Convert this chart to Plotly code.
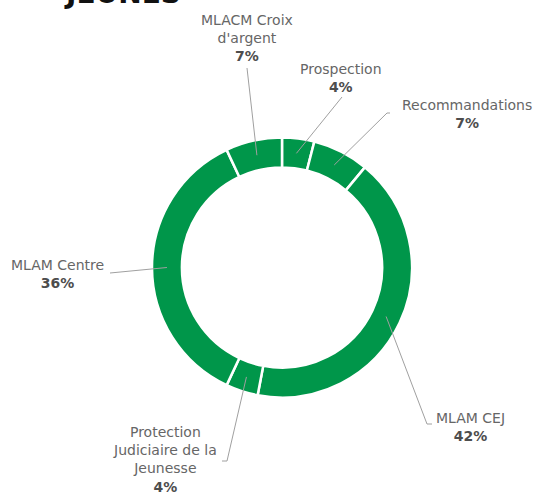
import math
import plotly.graph_objects as go

# Répartition des jeunes par origine (en %)
labels = ["Prospection", "Recommandations", "MLAM CEJ",
          "Protection<br>Judiciaire de la<br>Jeunesse", "MLAM Centre",
          "MLACM Croix<br>d'argent"]
values = [4, 7, 42, 4, 36, 7]
title_text = "JEUNES"

W, H = 536, 492
GREEN = "#00964a"
TEXT = "#666666"
BOLD = "#4d4d4d"
LINE = "#a0a0a0"

# Donut geometry in pixels
CX, CY, R_OUT = 282, 267.5, 130
HOLE = 0.77
R_MID = R_OUT * (1 + HOLE) / 2

def px(x):
    return x / W

def py(y):
    return 1 - y / H

# label placement: (text x, text y, anchor, leader elbow, leader end)
placement = [
    (341, 78, "center", (342, 97), None),
    (467, 114, "center", (387, 113), (390, 113)),
    (434, 427, "left", (427, 424), (432, 424)),
    (165, 459, "center", (227, 461), (222, 461)),
    (57, 274, "center", (110, 273), None),
    (247, 38, "center", (247, 68), None),
]

fig = go.Figure(go.Pie(
    labels=labels, values=values, sort=False, direction="clockwise",
    rotation=0, hole=HOLE, textinfo="none", hoverinfo="label+percent",
    marker=dict(colors=[GREEN] * len(values), line=dict(color="white", width=2.5)),
    domain=dict(x=[px(CX - R_OUT), px(CX + R_OUT)],
                y=[py(CY + R_OUT), py(CY - R_OUT)]),
    showlegend=False,
))

total = sum(values)
cum = 0
shapes, annotations = [], []
for lab, v, (tx, ty, anchor, elbow, end) in zip(labels, values, placement):
    mid = (cum + v / 2) / total * 2 * math.pi
    cum += v
    ix = CX + R_MID * math.sin(mid)
    iy = CY - R_MID * math.cos(mid)
    pts = [(ix, iy), elbow] + ([end] if end else [])
    path = "M " + " L ".join(f"{px(a)},{py(b)}" for a, b in pts)
    shapes.append(dict(type="path", xref="paper", yref="paper", path=path,
                       line=dict(color=LINE, width=1)))
    pct = round(v / total * 100)
    annotations.append(dict(
        x=px(tx), y=py(ty), xref="paper", yref="paper",
        xanchor=anchor, yanchor="middle", align="center", showarrow=False,
        text=f"{lab}<br><b><span style='color:{BOLD}'>{pct}%</span></b>",
        font=dict(family="DejaVu Sans", size=14, color=TEXT),
    ))

annotations.append(dict(
    x=px(122), y=py(-6), xref="paper", yref="paper", xanchor="center",
    yanchor="middle", showarrow=False, text=f"<b>{title_text}</b>",
    font=dict(family="DejaVu Sans", size=28, color="#111111"),
))

fig.update_layout(
    width=W, height=H, margin=dict(l=0, r=0, t=0, b=0),
    paper_bgcolor="white", plot_bgcolor="white",
    shapes=shapes, annotations=annotations,
)

fig.write_html("out.html")
